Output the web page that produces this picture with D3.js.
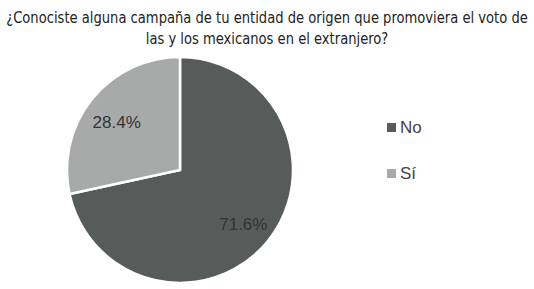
<!DOCTYPE html>
<html>
<head>
<meta charset="utf-8">
<script src="https://cdn.jsdelivr.net/npm/d3@7"></script>
<style>
  body { margin: 0; background: #fff; }
</style>
</head>
<body>
<div id="chart"></div>
<script>
// data
var categories = ["No", "Sí"];
var values = [71.6, 28.4];
var colors = ["#575c5b", "#a7aaa9"];
var titleLines = ["¿Conociste alguna campaña de tu entidad de origen que promoviera el voto de",
                  "las y los mexicanos en el extranjero?"];

var width = 534, height = 289;
var cx = 180, cy = 170, radius = 113;

var svg = d3.select("#chart").append("svg")
    .attr("width", width)
    .attr("height", height);

// title: condensed font, squeezed horizontally so line 1 spans ~522px like the original
var titleG = svg.append("g");
var titles = titleG.selectAll(".title")
    .data(titleLines)
    .enter().append("text")
    .attr("class", "title")
    .attr("x", 0)
    .attr("y", function(d, i) { return 23 + i * 21; })
    .attr("text-anchor", "middle")
    .style("font-family", "'DejaVu Sans Condensed', 'Liberation Sans', sans-serif")
    .style("font-size", "16.5px")
    .style("fill", "#222")
    .text(function(d) { return d; });

var w0 = titles.nodes()[0].getComputedTextLength();
var sx = Math.min(1, 522 / w0);
titleG.attr("transform", "translate(" + (width / 2) + ",0) scale(" + sx + ",1)");

var data = categories.map(function(c, i) { return {name: c, value: values[i], color: colors[i]}; });

var pie = d3.pie().sort(null).value(function(d) { return d.value; });
var arc = d3.arc().innerRadius(0).outerRadius(radius);

var g = svg.append("g").attr("transform", "translate(" + cx + "," + cy + ")");

g.selectAll("path")
    .data(pie(data))
    .enter().append("path")
    .attr("d", arc)
    .attr("fill", function(d) { return d.data.color; })
    .attr("stroke", "#fff")
    .attr("stroke-width", 2.5);

var labelArc = d3.arc().innerRadius(radius * 0.72).outerRadius(radius * 0.72);
g.selectAll(".lbl")
    .data(pie(data))
    .enter().append("text")
    .attr("class", "lbl")
    .attr("transform", function(d) { return "translate(" + labelArc.centroid(d) + ")"; })
    .attr("dy", "0.55em")
    .attr("text-anchor", "middle")
    .style("font-family", "'Liberation Sans', Arial, sans-serif")
    .style("font-size", "17px")
    .style("fill", "#333")
    .text(function(d) { return d.data.value.toFixed(1) + "%"; });

// legend
var legend = svg.selectAll(".legend")
    .data(data)
    .enter().append("g")
    .attr("class", "legend")
    .attr("transform", function(d, i) { return "translate(387," + (123 + i * 46) + ")"; });

legend.append("rect")
    .attr("width", 9)
    .attr("height", 9)
    .attr("fill", function(d) { return d.color; });

legend.append("text")
    .attr("x", 13)
    .attr("y", 4.5)
    .attr("dy", "0.35em")
    .style("font-family", "'Liberation Sans', Arial, sans-serif")
    .style("font-size", "17px")
    .style("fill", "#444")
    .text(function(d) { return d.name; });
</script>
</body>
</html>
